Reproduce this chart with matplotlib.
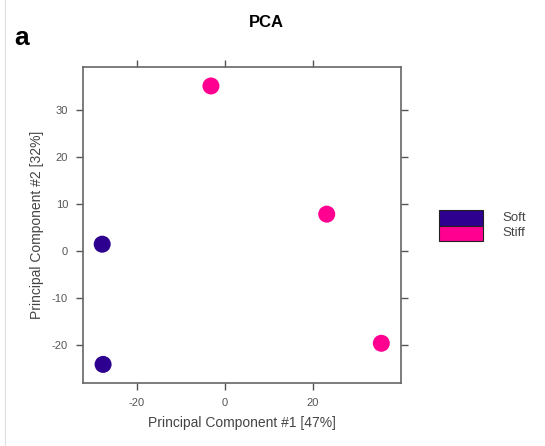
import matplotlib
matplotlib.use("Agg")
import matplotlib.pyplot as plt
from matplotlib.patches import Rectangle
from matplotlib.lines import Line2D

plt.rcParams['font.family'] = ['Liberation Sans', 'DejaVu Sans']
plt.rcParams['axes.unicode_minus'] = False

groups = ["Soft", "Stiff"]
colors = {"Soft": "#2E0090", "Stiff": "#FF0090"}
pc1 = [-27.9, -27.7, -3.2, 23.1, 35.5]
pc2 = [1.4, -24.2, 35.1, 7.8, -19.7]
group_of = ["Soft", "Soft", "Stiff", "Stiff", "Stiff"]
xticks = [-20, 0, 20]
yticks = [-20, -10, 0, 10, 20, 30]

fig = plt.figure(figsize=(5.45, 4.46), dpi=100)
ax = fig.add_axes([0.1528, 0.1419, 0.5824, 0.7085])

for g in groups:
    xs = [x for x, gg in zip(pc1, group_of) if gg == g]
    ys = [y for y, gg in zip(pc2, group_of) if gg == g]
    ax.scatter(xs, ys, s=150, color=colors[g], edgecolors='none', zorder=3)

ax.set_xlim(-32.2, 39.9)
ax.set_ylim(-28.1, 39.2)
ax.set_xticks(xticks)
ax.set_yticks(yticks)
ax.tick_params(axis='both', direction='out', length=5, width=1, color='#555555',
               labelsize=8, labelcolor='#555555', pad=6,
               top=True, right=True, labeltop=False, labelright=False)
for sp in ax.spines.values():
    sp.set_color('#666666')
    sp.set_linewidth(1.2)

ax.set_xlabel("Principal Component #1 [47%]", fontsize=10, color='#444444', labelpad=6)
ax.set_ylabel("Principal Component #2 [32%]", fontsize=10, color='#444444', labelpad=6)

fig.text(0.488, 0.95, "PCA", ha='center', va='center', fontsize=12, fontweight='bold')
fig.text(0.027, 0.915, "a", ha='left', va='center', fontsize=19, fontweight='bold')

# legend
fig.add_artist(Rectangle((439/545, 1-225.7/446), 44/545, 15.7/446, transform=fig.transFigure,
                         facecolor=colors["Soft"], edgecolor='#222222', linewidth=0.8))
fig.add_artist(Rectangle((439/545, 1-241/446), 44/545, 15.3/446, transform=fig.transFigure,
                         facecolor=colors["Stiff"], edgecolor='#222222', linewidth=0.8))
fig.text(502/545, 1-218/446, "Soft", ha='left', va='center', fontsize=9.5, color='#444444')
fig.text(502/545, 1-233/446, "Stiff", ha='left', va='center', fontsize=9.5, color='#444444')

fig.add_artist(Line2D([5/545, 5/545], [0, 1], transform=fig.transFigure, color='#dddddd', linewidth=0.8))

fig.savefig("out.png", dpi=100)
